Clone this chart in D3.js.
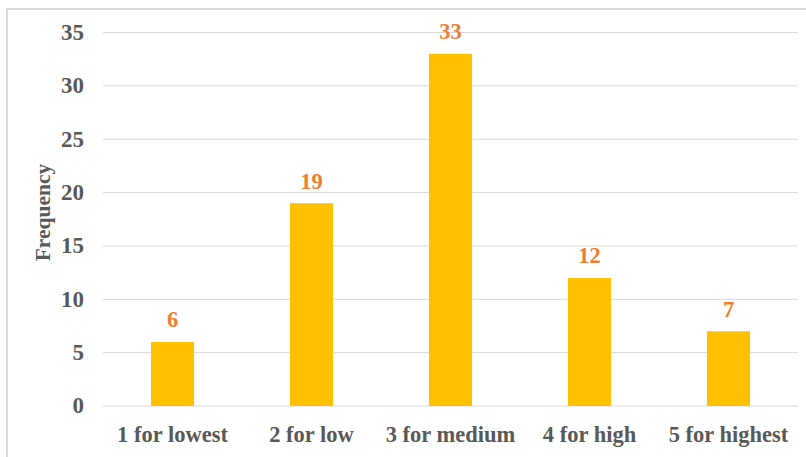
<!DOCTYPE html>
<html>
<head>
<meta charset="utf-8">
<script src="https://cdn.jsdelivr.net/npm/d3@7"></script>
<style>
  html, body { margin: 0; padding: 0; background: #fff; }
  svg { display: block; }
  text { font-family: "Liberation Serif", "Times New Roman", serif; font-weight: bold; }
</style>
</head>
<body>
<svg id="chart" width="806" height="457"></svg>
<script>
// Rating categories and how many responses fell in each
const categories = ["1 for lowest", "2 for low", "3 for medium", "4 for high", "5 for highest"];
const frequencies = [6, 19, 33, 12, 7];
const yTicks = [0, 5, 10, 15, 20, 25, 30, 35];

const svg = d3.select("#chart");
const plot = { left: 103, right: 798, top: 32.5, bottom: 406 };

// Outer chart frame (left and top edges visible)
svg.append("path")
  .attr("d", `M7,457 L7,9 L806,9`)
  .attr("fill", "none")
  .attr("stroke", "#d9d9d9")
  .attr("stroke-width", 2);

const x = d3.scaleBand()
  .domain(categories)
  .range([plot.left, plot.right])
  .paddingInner(0.69)
  .paddingOuter(0.345);

const y = d3.scaleLinear()
  .domain([0, 35])
  .range([plot.bottom, plot.top]);

// Horizontal gridlines
svg.append("g")
  .selectAll("line")
  .data(yTicks)
  .join("line")
  .attr("x1", plot.left)
  .attr("x2", plot.right)
  .attr("y1", d => y(d))
  .attr("y2", d => y(d))
  .attr("stroke", "#d9d9d9")
  .attr("stroke-width", 1);

// Y axis tick labels
const yAxis = d3.axisLeft(y).tickValues(yTicks).tickSize(0).tickPadding(0);
const gy = svg.append("g")
  .attr("transform", `translate(84,0)`)
  .call(yAxis);
gy.select(".domain").remove();
gy.selectAll("text")
  .attr("dy", "0.3em")
  .style("font-size", "23px")
  .attr("fill", "#595959");

// X axis category labels
const xAxis = d3.axisBottom(x).tickSize(0).tickPadding(0);
const gx = svg.append("g")
  .attr("transform", `translate(0,${plot.bottom})`)
  .call(xAxis);
gx.select(".domain").remove();
gx.selectAll("text")
  .attr("y", 36)
  .attr("dy", 0)
  .style("font-size", "22.5px")
  .attr("fill", "#595959");

// Bars
svg.append("g")
  .selectAll("rect")
  .data(frequencies)
  .join("rect")
  .attr("x", (d, i) => x(categories[i]))
  .attr("width", x.bandwidth())
  .attr("y", d => y(d))
  .attr("height", d => y(0) - y(d))
  .attr("fill", "#ffc000");

// Value labels above bars
svg.append("g")
  .selectAll("text")
  .data(frequencies)
  .join("text")
  .attr("x", (d, i) => x(categories[i]) + x.bandwidth() / 2)
  .attr("y", d => y(d) - 14.5)
  .attr("text-anchor", "middle")
  .style("font-size", "22.5px")
  .attr("fill", "#ed7d31")
  .text(d => d);

// Y axis title
svg.append("text")
  .attr("transform", `translate(50,212.5) rotate(-90)`)
  .attr("text-anchor", "middle")
  .style("font-size", "21.5px")
  .attr("fill", "#595959")
  .text("Frequency");
</script>
</body>
</html>
